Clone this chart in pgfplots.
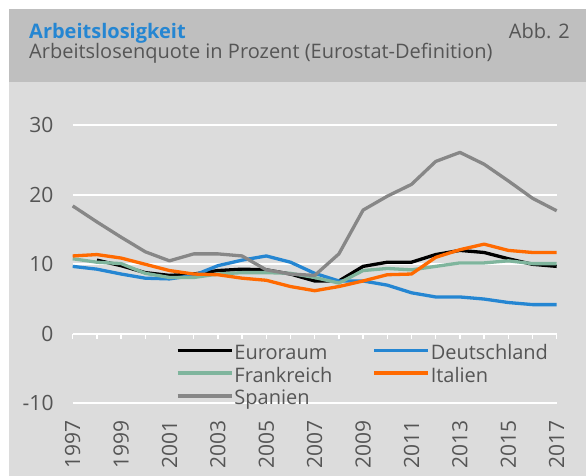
\documentclass[border=0pt]{standalone}
\usepackage{pgfplots}
\pgfplotsset{compat=1.18}
\usepackage{fontspec}
\setmainfont{Open Sans}
\definecolor{hdr}{HTML}{BFBFBF}
\definecolor{bg}{HTML}{DCDCDC}
\definecolor{txt}{HTML}{555555}
\definecolor{ttl}{HTML}{2586D2}
\definecolor{cde}{HTML}{2586D2}
\definecolor{cfr}{HTML}{7FB59D}
\definecolor{cit}{HTML}{FF6A00}
\definecolor{ces}{HTML}{878787}
\begin{document}
\begin{tikzpicture}
\fill[white] (0pt,0pt) rectangle (586pt,476pt);
\fill[hdr] (9pt,394pt) rectangle (586pt,467pt);
\fill[bg] (9pt,0pt) rectangle (586pt,394pt);
\node[anchor=base west, inner sep=0pt, text=ttl, font=\fontsize{20}{24}\selectfont\bfseries] at (29pt,437.7pt) {Arbeitslosigkeit};
\node[anchor=base west, inner sep=0pt, text=txt, font=\fontsize{20}{24}\selectfont] at (29pt,417.7pt) {Arbeitslosenquote in Prozent (Eurostat-Definition)};
\node[anchor=base east, inner sep=0pt, text=txt, font=\fontsize{20}{24}\selectfont] at (570pt,437.7pt) {Abb. 2};
\begin{axis}[
  at={(72.7pt,72.7pt)}, anchor=south west,
  scale only axis, width=484pt, height=278pt,
  xmin=1997, xmax=2017, ymin=-10, ymax=30,
  xtick={1997,1999,2001,2003,2005,2007,2009,2011,2013,2015,2017},
  xticklabels={1997,1999,2001,2003,2005,2007,2009,2011,2013,2015,2017},
  ytick={-10,0,10,20,30},
  yticklabels={-10,0,10,20,30},
  axis line style={draw=none},
  tick style={draw=none},
  major tick length=0pt,
  ymajorgrids,
  grid style={white, line width=2pt},
  ticklabel style={font=\fontsize{21}{24}\selectfont, text=txt, inner sep=0pt},
  yticklabel style={anchor=east},
  yticklabel shift=19pt,
  xticklabel style={rotate=90, anchor=east},
  xticklabel shift=17pt,
  clip=false,
  legend columns=2,
  legend style={draw=none, fill=none, inner sep=0pt, outer sep=0pt,
    at={(rel axis cs:0.2134,0.2086)}, anchor=north west,
    font=\fontsize{20}{24}\selectfont, text=txt,
    column sep=0pt, row sep=4.8pt,
    nodes={inner sep=0pt, text height=14pt, text depth=4pt, anchor=base west},
    /tikz/every odd column/.append style={column sep=1pt},
    /tikz/every even column/.append style={column sep=40pt}},
  legend image code/.code={\draw[#1, line width=3.5pt] (0pt,9pt) -- (54pt,9pt);},
  every axis plot/.append style={line width=3.3pt, line join=round, mark=none},
]
\pgfplotsinvokeforeach{1997,1998,...,2017}{
  \draw[white, line width=1.5pt] (axis cs:#1,0) -- ++(0pt,-5.7pt);
}
\draw[white, line width=2pt] (axis cs:1997,0) -- (axis cs:2017,0);
\addplot[black] coordinates {
(1998,10.6) (1999,9.8) (2000,8.8) (2001,8.4) (2002,8.6) (2003,9.1) (2004,9.3) (2005,9.2) (2006,8.6) (2007,7.6)
(2008,7.6) (2009,9.7) (2010,10.3) (2011,10.3) (2012,11.4) (2013,12.0) (2014,11.7) (2015,10.8) (2016,10.0) (2017,9.7)};
\addlegendentry{Euroraum}
\addplot[cde] coordinates {
(1997,9.7) (1998,9.3) (1999,8.6) (2000,8.0) (2001,7.9) (2002,8.4) (2003,9.8) (2004,10.6) (2005,11.2) (2006,10.3)
(2007,8.7) (2008,7.6) (2009,7.6) (2010,7.0) (2011,5.9) (2012,5.3) (2013,5.3) (2014,5.0) (2015,4.5) (2016,4.2) (2017,4.2)};
\addlegendentry{Deutschland}
\addplot[cfr] coordinates {
(1997,10.8) (1998,10.3) (1999,10.1) (2000,8.7) (2001,8.1) (2002,8.1) (2003,8.6) (2004,8.8) (2005,8.8) (2006,8.7)
(2007,8.1) (2008,7.3) (2009,9.1) (2010,9.4) (2011,9.2) (2012,9.7) (2013,10.2) (2014,10.2) (2015,10.5) (2016,10.1) (2017,10.1)};
\addlegendentry{Frankreich}
\addplot[cit] coordinates {
(1997,11.2) (1998,11.4) (1999,10.9) (2000,10.0) (2001,9.1) (2002,8.6) (2003,8.5) (2004,8.0) (2005,7.7) (2006,6.8)
(2007,6.2) (2008,6.8) (2009,7.6) (2010,8.5) (2011,8.6) (2012,11.0) (2013,12.1) (2014,12.9) (2015,12.0) (2016,11.7) (2017,11.7)};
\addlegendentry{Italien}
\addplot[ces] coordinates {
(1997,18.4) (1998,16.1) (1999,13.9) (2000,11.8) (2001,10.5) (2002,11.5) (2003,11.5) (2004,11.2) (2005,9.2) (2006,8.6)
(2007,8.4) (2008,11.5) (2009,17.8) (2010,19.8) (2011,21.5) (2012,24.8) (2013,26.1) (2014,24.4) (2015,22.0) (2016,19.5) (2017,17.7)};
\addlegendentry{Spanien}
\end{axis}
\pgfresetboundingbox
\useasboundingbox (0pt,0pt) rectangle (586pt,476pt);
\end{tikzpicture}
\end{document}
